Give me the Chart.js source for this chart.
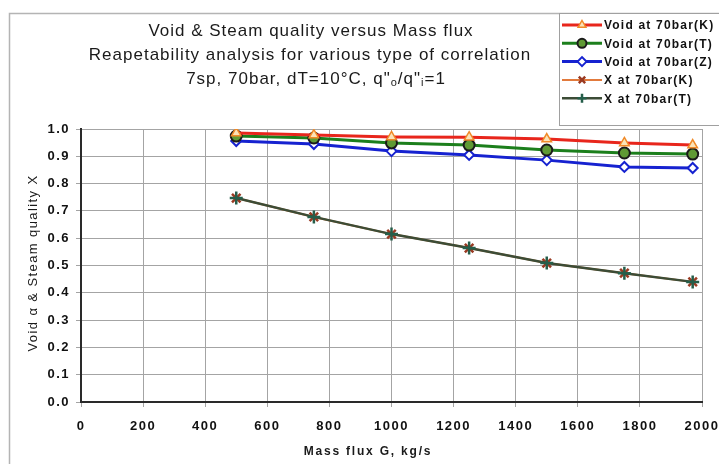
<!DOCTYPE html>
<html>
<head>
<meta charset="utf-8">
<script src="https://cdn.jsdelivr.net/npm/chart.js@4.4.1/dist/chart.umd.min.js"></script>
<style>
    html, body { margin: 0; padding: 0; background: #fff; overflow: hidden; }
    canvas { display: block; }
</style>
</head>
<body>
<canvas id="grafica" width="740" height="464"></canvas>
<script>
// Flujo másico (kg/s) y resultados de cada correlación
const flujoMasico = [500, 750, 1000, 1250, 1500, 1750, 1970];
const voidK = [0.985, 0.978, 0.971, 0.970, 0.963, 0.949, 0.941];
const voidT = [0.974, 0.967, 0.949, 0.941, 0.923, 0.912, 0.908];
const voidZ = [0.956, 0.945, 0.919, 0.905, 0.886, 0.861, 0.857];
const calidadK = [0.747, 0.678, 0.615, 0.564, 0.509, 0.472, 0.440];
const calidadT = [0.747, 0.678, 0.615, 0.564, 0.509, 0.472, 0.440];

const etiquetas = ["Void at 70bar(K)", "Void at 70bar(T)", "Void at 70bar(Z)", "X at 70bar(K)", "X at 70bar(T)"];
const titulo = ["Void & Steam quality versus Mass flux", "Reapetability analysis for various type of correlation"];
const tituloEjeX = "Mass flux G, kg/s";
const tituloEjeY = "Void \u03b1 & Steam quality X";
const ejeX = { min: 0, max: 2000, paso: 200 };
const ejeY = { min: 0, max: 1, paso: 0.1 };

const puntos = serie => flujoMasico.map((g, i) => ({ x: g, y: serie[i] }));

// Estilo de línea y marcador de cada serie
const estilos = [
    { borderColor: '#e8261c', borderWidth: 3, pointStyle: 'triangle', pointRadius: 5.5, pointBorderColor: '#f08a28', pointBackgroundColor: '#fbe3b8', pointBorderWidth: 1.5 },
    { borderColor: '#1c7f1c', borderWidth: 3, pointStyle: 'circle', pointRadius: 5.5, pointBorderColor: '#1a1a1a', pointBackgroundColor: '#5f9a34', pointBorderWidth: 2 },
    { borderColor: '#1622d0', borderWidth: 3, pointStyle: 'rectRot', pointRadius: 5, pointBorderColor: '#1622d0', pointBackgroundColor: '#ffffff', pointBorderWidth: 2 },
    { borderColor: '#e27a3c', borderWidth: 2, pointStyle: 'crossRot', pointRadius: 6, pointBorderColor: '#9a3a22', pointBackgroundColor: '#9a3a22', pointBorderWidth: 2.5 },
    { borderColor: '#3c4c36', borderWidth: 2.5, pointStyle: 'cross', pointRadius: 6.5, pointBorderColor: '#255e4a', pointBackgroundColor: '#255e4a', pointBorderWidth: 2.5 }
];
const series = [voidK, voidT, voidZ, calidadK, calidadT];

const textos = {
    id: 'textos',
    beforeDraw(chart) {
        chart.ctx.letterSpacing = '1.5px';
    },
    afterDraw(chart) {
        const ctx = chart.ctx;
        ctx.save();

        // marco exterior
        ctx.strokeStyle = '#b4b4b4';
        ctx.lineWidth = 1.5;
        ctx.beginPath();
        ctx.moveTo(9.5, 464);
        ctx.lineTo(9.5, 13.5);
        ctx.lineTo(740, 13.5);
        ctx.stroke();

        // título
        ctx.fillStyle = '#1a1a1a';
        ctx.textAlign = 'center';
        ctx.textBaseline = 'middle';
        ctx.letterSpacing = '1px';
        ctx.font = '17px "Liberation Sans", Arial, sans-serif';
        ctx.fillText(titulo[0], 311, 31);
        ctx.fillText(titulo[1], 310, 55);

        // tercera línea con subíndices
        const partes = [['7sp, 70bar, dT=10\u00b0C, q"', false], ['o', true], ['/q"', false], ['i', true], ['=1', false]];
        const fuente = sub => sub ? '11px "Liberation Sans", Arial, sans-serif' : '17px "Liberation Sans", Arial, sans-serif';
        let ancho = 0;
        partes.forEach(([t, sub]) => { ctx.font = fuente(sub); ancho += ctx.measureText(t).width; });
        let x = 316 - ancho / 2;
        ctx.textAlign = 'left';
        partes.forEach(([t, sub]) => {
            ctx.font = fuente(sub);
            ctx.fillText(t, x, sub ? 83 : 79);
            x += ctx.measureText(t).width;
        });

        // títulos de los ejes
        ctx.textAlign = 'center';
        ctx.font = 'bold 12px "Liberation Sans", Arial, sans-serif';
        ctx.letterSpacing = '1.8px';
        ctx.fillText(tituloEjeX, 368, 452);

        ctx.save();
        ctx.translate(33, 263);
        ctx.rotate(-Math.PI / 2);
        ctx.font = '13px "Liberation Sans", Arial, sans-serif';
        ctx.letterSpacing = '1.4px';
        ctx.fillText(tituloEjeY, 0, 0);
        ctx.restore();

        // leyenda
        ctx.fillStyle = '#ffffff';
        ctx.fillRect(559, 13, 181, 112);
        ctx.strokeStyle = '#a0a0a0';
        ctx.lineWidth = 1;
        ctx.strokeRect(559.5, 13.5, 181, 112);

        ctx.textAlign = 'left';
        ctx.font = 'bold 12px "Liberation Sans", Arial, sans-serif';
        ctx.letterSpacing = '1.2px';
        etiquetas.forEach((texto, i) => {
            const e = estilos[i];
            const y = 25 + i * 18.3;
            ctx.strokeStyle = e.borderColor;
            ctx.lineWidth = e.borderWidth;
            ctx.beginPath();
            ctx.moveTo(562, y);
            ctx.lineTo(602, y);
            ctx.stroke();

            ctx.fillStyle = e.pointBackgroundColor;
            ctx.strokeStyle = e.pointBorderColor;
            ctx.lineWidth = e.pointBorderWidth;
            Chart.helpers.drawPoint(ctx, {
                pointStyle: e.pointStyle, radius: 4.5, rotation: 0, borderWidth: e.pointBorderWidth
            }, 582, y);

            ctx.fillStyle = '#111';
            ctx.fillText(texto, 604, y + 1);
        });

        ctx.restore();
        ctx.letterSpacing = '0px';
    }
};

const ajusteY = scale => {
    scale.width = 81;
    scale.paddingTop = 0;
    scale.paddingBottom = 0;
};
const ajusteX = scale => {
    scale.height = 62;
    scale.paddingLeft = 0;
    scale.paddingRight = 0;
};

const fuenteTicks = { family: '"Liberation Sans", Arial, sans-serif', size: 13, weight: 'bold' };

new Chart(document.getElementById("grafica").getContext("2d"), {
    type: "line",
    data: {
        datasets: series.map((s, i) => ({
            label: etiquetas[i],
            data: puntos(s),
            fill: false,
            tension: 0,
            order: i === 4 ? -1 : i,
            ...estilos[i]
        }))
    },
    options: {
        responsive: false,
        animation: false,
        layout: { padding: { left: 0, top: 129, right: 38, bottom: 0 } },
        scales: {
            x: {
                type: 'linear',
                min: ejeX.min,
                max: ejeX.max,
                afterFit: ajusteX,
                ticks: { stepSize: ejeX.paso, color: '#111', font: fuenteTicks, padding: 12, maxRotation: 0, callback: v => String(v) },
                grid: { color: '#a4a4a4', lineWidth: 1, tickLength: 5 },
                border: { color: '#2a2a2a', width: 2 }
            },
            y: {
                min: ejeY.min,
                max: ejeY.max,
                afterFit: ajusteY,
                ticks: { stepSize: ejeY.paso, color: '#111', font: fuenteTicks, padding: 6, callback: v => v.toFixed(1) },
                grid: { color: '#a4a4a4', lineWidth: 1, tickLength: 5 },
                border: { color: '#2a2a2a', width: 2 }
            }
        },
        plugins: {
            legend: { display: false },
            title: { display: false },
            tooltip: { enabled: false }
        }
    },
    plugins: [textos]
});
</script>
</body>
</html>
